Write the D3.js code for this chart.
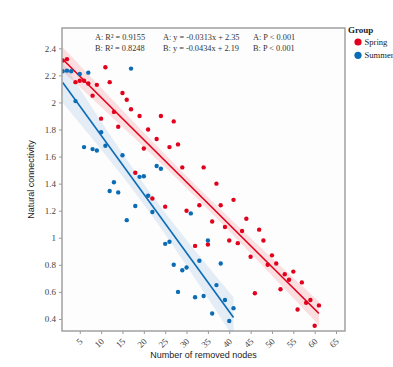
<!DOCTYPE html>
<html><head><meta charset="utf-8">
<script src="https://cdn.jsdelivr.net/npm/d3@7"></script>
<style>body{margin:0;background:#fff}svg{display:block}</style>
</head><body><svg id="c" width="393" height="367"></svg>
<script>
const springX = [1,2,4,5,6,7,8,9,10,11,12,13,14,15,16,17,18,19,20,21,22,23,24,25,26,27,28,29,30,32,33,34,35,36,37,38,39,40,41,42,43,44,45,46,47,48,49,50,51,52,53,54,55,56,57,58,59,60,61];
const springY = [2.31,2.32,2.15,2.16,2.16,2.14,2.05,2.13,1.88,2.26,2.15,1.93,1.82,2.07,2.02,1.95,1.48,1.90,1.66,1.80,1.29,1.73,1.90,1.23,1.67,1.86,1.69,1.52,1.20,0.94,1.24,1.52,0.95,1.12,1.40,1.24,1.08,0.98,1.28,0.96,1.05,1.14,0.86,0.59,1.06,0.98,0.80,0.87,0.81,0.62,0.73,0.69,0.75,0.47,0.67,0.52,0.54,0.35,0.50];
const summerX = [1,2,3,4,5,6,7,8,9,10,11,12,13,14,15,16,17,18,19,20,21,22,23,24,25,26,27,28,29,30,31,32,33,34,35,36,37,38,39,40,41];
const summerY = [2.23,2.235,2.23,2.01,2.21,1.67,2.22,1.655,1.645,1.78,1.68,1.345,1.41,1.335,1.61,1.13,2.25,1.235,1.45,1.455,1.31,1.19,1.53,1.51,0.955,0.97,0.80,0.60,0.76,0.78,1.18,0.56,0.83,0.57,0.98,0.44,0.65,0.81,0.54,0.385,0.48];
const groups = ["Spring","Summer"];
const slopes = [-0.0313,-0.0434];
const intercepts = [2.35,2.19];
const r2Labels = ["A: R\u00B2 = 0.9155","B: R\u00B2 = 0.8248"];
const eqLabels = ["A: y = -0.0313x + 2.35","B: y = -0.0434x + 2.19"];
const pLabels = ["A: P < 0.001","B: P < 0.001"];
const xTicks = [5,10,15,20,25,30,35,40,45,50,55,60,65];
const yTicks = [0.4,0.6,0.8,1,1.2,1.4,1.6,1.8,2,2.2,2.4];
const colors = ["#E2001D","#0B6CB6"];
const bandColors = ["rgba(240,60,70,0.16)","rgba(60,120,200,0.13)"];

const svg = d3.select("#c");
const L=62,R=345,T=28,B=331;
const x = d3.scaleLinear().domain([0.84,67.1]).range([L,R]);
const y = d3.scaleLinear().domain([0.311,2.55]).range([B,T]);
const serif = "'Liberation Serif','Times New Roman',serif";
const sans = "'Liberation Sans',Arial,sans-serif";

svg.append("rect").attr("x",L).attr("y",T).attr("width",R-L).attr("height",B-T).attr("fill","#fdfdfd");

svg.append("defs").append("clipPath").attr("id","pc").append("rect")
  .attr("x",L).attr("y",T).attr("width",R-L).attr("height",B-T);

const data = [[springX,springY],[summerX,summerY]];
const g = svg.append("g").attr("clip-path","url(#pc)");

data.forEach(([xs,ys],i)=>{
  const n=xs.length, xm=d3.mean(xs);
  const sxx=d3.sum(xs,v=>(v-xm)*(v-xm));
  const resid=d3.sum(xs.map((v,k)=>{const e=ys[k]-(intercepts[i]+slopes[i]*v);return e*e;}));
  const s=Math.sqrt(resid/(n-2)), t=2.0;
  const x0=d3.min(xs), x1=d3.max(xs);
  const pts=d3.range(0,101).map(k=>x0+(x1-x0)*k/100);
  const band=pts.map(v=>{const f=intercepts[i]+slopes[i]*v;const se=s*Math.sqrt(1/n+(v-xm)*(v-xm)/sxx);return [v,f-t*se,f+t*se];});
  g.append("path").attr("d",d3.area().x(d=>x(d[0])).y0(d=>y(d[1])).y1(d=>y(d[2]))(band)).attr("fill",bandColors[i]);
});
data.forEach(([xs,ys],i)=>{
  const x0=d3.min(xs), x1=d3.max(xs);
  g.append("line").attr("x1",x(x0)).attr("x2",x(x1))
   .attr("y1",y(intercepts[i]+slopes[i]*x0)).attr("y2",y(intercepts[i]+slopes[i]*x1))
   .attr("stroke",colors[i]).attr("stroke-width",1.6);
});
data.forEach(([xs,ys],i)=>{
  g.selectAll(null).data(xs.map((v,k)=>[v,ys[k]])).join("circle")
   .attr("cx",d=>x(d[0])).attr("cy",d=>y(d[1])).attr("r",2.2).attr("fill",colors[i]);
});

svg.append("rect").attr("x",L).attr("y",T).attr("width",R-L).attr("height",B-T)
  .attr("fill","none").attr("stroke","#9a9a9a").attr("stroke-width",1.4);

const xa = svg.append("g").attr("transform",`translate(0,${B})`)
  .call(d3.axisBottom(x).tickValues(xTicks).tickSize(3).tickFormat(d3.format("d")));
xa.select(".domain").remove();
xa.selectAll("line").attr("stroke","#9a9a9a");
xa.selectAll("text").attr("font-family",serif).attr("font-size",9).attr("fill","#444")
  .attr("text-anchor","end").attr("y",0).attr("dy",0).attr("transform","translate(3,11) rotate(-45)");

const ya = svg.append("g").attr("transform",`translate(${L},0)`)
  .call(d3.axisLeft(y).tickValues(yTicks).tickSize(3).tickFormat(d=>String(d)));
ya.select(".domain").remove();
ya.selectAll("line").attr("stroke","#9a9a9a");
ya.selectAll("text").attr("font-family",serif).attr("font-size",9).attr("fill","#444");

svg.append("text").attr("x",(L+R)/2).attr("y",358).attr("text-anchor","middle")
  .attr("font-family",sans).attr("font-size",9).attr("fill","#222").text("Number of removed nodes");
svg.append("text").attr("transform",`translate(34,${(T+B)/2}) rotate(-90)`).attr("text-anchor","middle")
  .attr("font-family",sans).attr("font-size",9).attr("fill","#222").text("Natural connectivity");

const annX=[95,163,253];
[r2Labels,eqLabels,pLabels].forEach((arr,c)=>{
  arr.forEach((s,r)=>{
    svg.append("text").attr("x",annX[c]).attr("y",40+r*10.5).attr("font-family",serif)
      .attr("font-size",8.3).attr("fill","#333").text(s);
  });
});

svg.append("text").attr("x",348).attr("y",33).attr("font-family",serif).attr("font-weight","bold")
  .attr("font-size",9).attr("fill","#222").text("Group");
groups.forEach((gname,i)=>{
  svg.append("circle").attr("cx",358).attr("cy",42+i*13.3).attr("r",3.6).attr("fill",colors[i]);
  svg.append("text").attr("x",364.5).attr("y",45+i*13.3).attr("font-family",serif)
    .attr("font-size",8.6).attr("fill","#222").text(gname);
});
</script></body></html>
